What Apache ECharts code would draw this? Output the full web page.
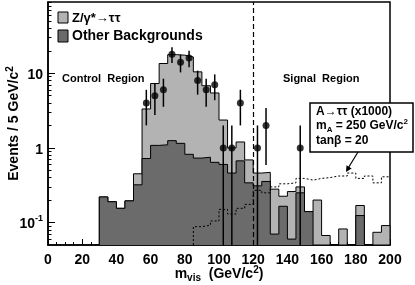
<!DOCTYPE html>
<html><head><meta charset="utf-8">
<script src="https://cdn.jsdelivr.net/npm/echarts@6/dist/echarts.min.js"></script>
<style>html,body{margin:0;padding:0;background:#fff}#c{width:415px;height:285px}</style>
</head><body><div id="c"></div>
<script>
// ---- data ----
const binLow = [30,35,40,45,50,55,60,65,70,75,80,85,90,95,100,105,110,115,120,125,130,135,140,145,150,155,160,165,170,175,180,185,190,195];
const otherBkg = [0.22,0.19,0.155,0.195,0.32,0.72,1.08,1.1,1.25,1.15,0.82,0.73,0.75,0.64,0.6,0.46,0.67,0.34,0.31,0.355,0.07,0.165,0.06,0.25,0.14,0,0,0,0,0,0.124,0,0,0];
const zTauTau = [0,0,0,0,0.13,2.6,6.2,12.4,16.5,16.3,15.7,9.7,6.05,4.8,1.76,0.54,0.53,0.35,0.15,0.115,0.21,0.06,0.2,0.05,0,0.2,0.067,0,0.082,0,0.045,0,0.074,0.091];
const signalLow = [85,90,95,100,105,110,115,120,125,130,135,140,145,150,155,160,165,170,175,180,185,190,195];
const signalA = [0.088,0.092,0.105,0.15,0.13,0.155,0.175,0.27,0.25,0.30,0.33,0.34,0.39,0.37,0.39,0.40,0.42,0.42,0.46,0.39,0.42,0.34,0.41];
const dataX = [57.5,62.5,67.5,72.5,77.5,82.5,87.5,92.5,97.5,102.5,107.5,112.5,122.5,127.5,147.5];
const dataY = [4,5,6,18,14,16,8,6,7,1,1,4,1,2,1];
const dataErrLow = [2,2.24,2.45,4.24,3.74,4,2.83,2.45,2.65,1,1,2,1,1.41,1];
const dataErrHigh = [2,2.24,2.45,4.24,3.74,4,2.83,2.45,2.65,1,1,2,1,1.41,1];
const xTicks = [0,20,40,60,80,100,120,140,160,180,200];
const yMajorTicks = [0.1,1,10];
const yMinorTicks = [0.06,0.07,0.08,0.09,0.2,0.3,0.4,0.5,0.6,0.7,0.8,0.9,2,3,4,5,6,7,8,9,20,30,40,50,60,70,80,90];
const binWidth = 5;
const cutValue = 120;

const Y_MIN = 0.05, Y_MAX = 90;
const LIGHT = '#b3b3b3', DARK = '#6b6b6b';

function stepLine(lows, vals) {
  const pts = [[lows[0], Y_MIN]];
  for (let i = 0; i < lows.length; i++) {
    const v = vals[i] > Y_MIN ? vals[i] : Y_MIN;
    pts.push([lows[i], v]);
    pts.push([lows[i] + binWidth, v]);
  }
  pts.push([lows[lows.length - 1] + binWidth, Y_MIN]);
  return pts;
}
const totalBkg = otherBkg.map((v, i) => v + zTauTau[i]);

const chart = echarts.init(document.getElementById('c'), null, {renderer: 'canvas'});
const FONT = 'Liberation Sans, Arial, sans-serif';

chart.setOption({
  animation: false,
  backgroundColor: '#fff',
  grid: {left: 48, right: 25, top: 2, bottom: 40, containLabel: false, outerBoundsMode: 'none',
         show: true, borderColor: '#000', borderWidth: 1.5, backgroundColor: 'transparent'},
  xAxis: {
    type: 'value', min: 0, max: 200, interval: 20,
    axisLine: {lineStyle: {color: '#000', width: 1.5}},
    axisTick: {inside: true, length: 6, lineStyle: {color: '#000', width: 1}},
    minorTick: {show: true, splitNumber: 4, length: 3, lineStyle: {color: '#000', width: 1}},
    splitLine: {show: false},
    axisLabel: {customValues: xTicks, color: '#000', fontFamily: FONT, fontWeight: 'bold', fontSize: 14, margin: 8},
    name: '{m|m}{sub|vis}{m|  (GeV/c}{sup|2}{m|)}',
    nameLocation: 'middle', nameGap: 20, nameMoveOverlap: false,
    nameTextStyle: {verticalAlign: 'top', rich: {
      m: {fontFamily: FONT, fontWeight: 'bold', fontSize: 14, color: '#000', lineHeight: 18, verticalAlign: 'middle'},
      sub: {fontFamily: FONT, fontWeight: 'bold', fontSize: 10, color: '#000', lineHeight: 18, verticalAlign: 'bottom'},
      sup: {fontFamily: FONT, fontWeight: 'bold', fontSize: 10, color: '#000', lineHeight: 18, verticalAlign: 'top'}
    }}
  },
  yAxis: [{
    type: 'log', min: Y_MIN, max: Y_MAX, logBase: 10,
    axisLine: {show: true, lineStyle: {color: '#000', width: 1.5}},
    axisTick: {inside: true, length: 7, customValues: yMajorTicks, lineStyle: {color: '#000', width: 1}},
    splitLine: {show: false},
    axisLabel: {
      customValues: yMajorTicks, margin: 5,
      formatter: v => v < 0.5 ? '{b|10}{s|-1}' : '{b|' + (v >= 10 ? '10' : '1') + '}',
      rich: {
        b: {fontFamily: FONT, fontWeight: 'bold', fontSize: 14, color: '#000', lineHeight: 18, verticalAlign: 'bottom'},
        s: {fontFamily: FONT, fontWeight: 'bold', fontSize: 9, color: '#000', lineHeight: 18, verticalAlign: 'top'}
      }
    },
    name: '{t|Events / 5 GeV/c}{sup|2}',
    nameLocation: 'middle', nameGap: 25, nameRotate: 90, nameMoveOverlap: false,
    nameTextStyle: {verticalAlign: 'bottom', rich: {
      t: {fontFamily: FONT, fontWeight: 'bold', fontSize: 14, color: '#000', lineHeight: 18, verticalAlign: 'middle'},
      sup: {fontFamily: FONT, fontWeight: 'bold', fontSize: 10, color: '#000', lineHeight: 18, verticalAlign: 'top'}
    }}
  }, {
    type: 'log', min: Y_MIN, max: Y_MAX, logBase: 10, position: 'left',
    axisLine: {show: false},
    axisTick: {inside: true, length: 3.5, customValues: yMinorTicks, lineStyle: {color: '#000', width: 1}},
    axisLabel: {show: false},
    splitLine: {show: false}
  }],
  series: [
    {
      name: 'Z/γ*→ττ', type: 'line', data: stepLine(binLow, totalBkg), symbol: 'none',
      lineStyle: {color: '#000', width: 1}, areaStyle: {color: LIGHT, opacity: 1, origin: 'start'}, z: 2
    },
    {
      name: 'Other Backgrounds', type: 'line', data: stepLine(binLow, otherBkg), symbol: 'none',
      lineStyle: {color: '#000', width: 1}, areaStyle: {color: DARK, opacity: 1, origin: 'start'}, z: 3
    },
    {
      name: 'A→ττ (x1000)', type: 'line', data: stepLine(signalLow, signalA).slice(0, -1), symbol: 'none',
      lineStyle: {color: '#000', width: 1, type: [2, 2]}, z: 4,
      markLine: {
        silent: true, symbol: 'none', label: {show: false},
        lineStyle: {color: '#000', width: 1.2, type: [5, 3]},
        data: [{xAxis: cutValue}]
      }
    },
    {
      type: 'custom', z: 5,
      data: dataX.map((x, i) => [x, dataY[i] - dataErrLow[i], dataY[i] + dataErrHigh[i]]),
      renderItem: (params, api) => {
        const lo = Math.max(api.value(1), Y_MIN);
        const p1 = api.coord([api.value(0), lo]);
        const p2 = api.coord([api.value(0), api.value(2)]);
        return {type: 'line', shape: {x1: p1[0], y1: p1[1], x2: p2[0], y2: p2[1]}, style: {stroke: '#000', lineWidth: 1.5}};
      },
      encode: {x: 0, y: 2}
    },
    {
      name: 'Data', type: 'scatter', data: dataX.map((x, i) => [x, dataY[i]]),
      symbol: 'circle', symbolSize: 7, itemStyle: {color: '#000'}, z: 6
    }
  ],
  graphic: [
    {type: 'rect', z: 10, shape: {x: 58, y: 12, width: 10, height: 11}, style: {fill: LIGHT, stroke: '#000', lineWidth: 1}},
    {type: 'text', z: 10, x: 72, y: 18, style: {text: 'Z/γ*→ττ', font: 'bold 13px ' + FONT, fill: '#000', verticalAlign: 'middle'}},
    {type: 'rect', z: 10, shape: {x: 58, y: 30, width: 10, height: 12}, style: {fill: DARK, stroke: '#000', lineWidth: 1}},
    {type: 'text', z: 10, x: 72, y: 36, style: {text: 'Other Backgrounds', font: 'bold 14px ' + FONT, fill: '#000', verticalAlign: 'middle'}},
    {type: 'text', x: 62, y: 79, style: {text: 'Control  Region', font: 'bold 11px ' + FONT, fill: '#000', verticalAlign: 'middle'}},
    {type: 'text', x: 283, y: 79, style: {text: 'Signal  Region', font: 'bold 11px ' + FONT, fill: '#000', verticalAlign: 'middle'}},
    {type: 'rect', z: 10, shape: {x: 310, y: 103, width: 103, height: 49}, style: {fill: '#fff', stroke: '#000', lineWidth: 1.5}},
    {type: 'text', z: 11, x: 316, y: 112, style: {text: 'A→ττ (x1000)', font: 'bold 12px ' + FONT, fill: '#000', verticalAlign: 'middle'}},
    {type: 'text', z: 11, x: 316, y: 126, style: {
      text: '{m|m}{s|A}{m| = 250 GeV/c}{p|2}', verticalAlign: 'middle',
      rich: {
        m: {font: 'bold 12px ' + FONT, fill: '#000', lineHeight: 16, verticalAlign: 'middle'},
        s: {font: 'bold 8px ' + FONT, fill: '#000', lineHeight: 16, verticalAlign: 'bottom'},
        p: {font: 'bold 8px ' + FONT, fill: '#000', lineHeight: 16, verticalAlign: 'top'}
      }}},
    {type: 'text', z: 11, x: 316, y: 141, style: {text: 'tanβ = 20', font: 'bold 12px ' + FONT, fill: '#000', verticalAlign: 'middle'}},
    {type: 'line', z: 11, shape: {x1: 358, y1: 152, x2: 347, y2: 170}, style: {stroke: '#000', lineWidth: 1.2}},
    {type: 'polygon', z: 11, shape: {points: [[346, 172], [351.7, 168.4], [346.5, 165.3]]}, style: {fill: '#000'}}
  ]
});
</script>
</body></html>
